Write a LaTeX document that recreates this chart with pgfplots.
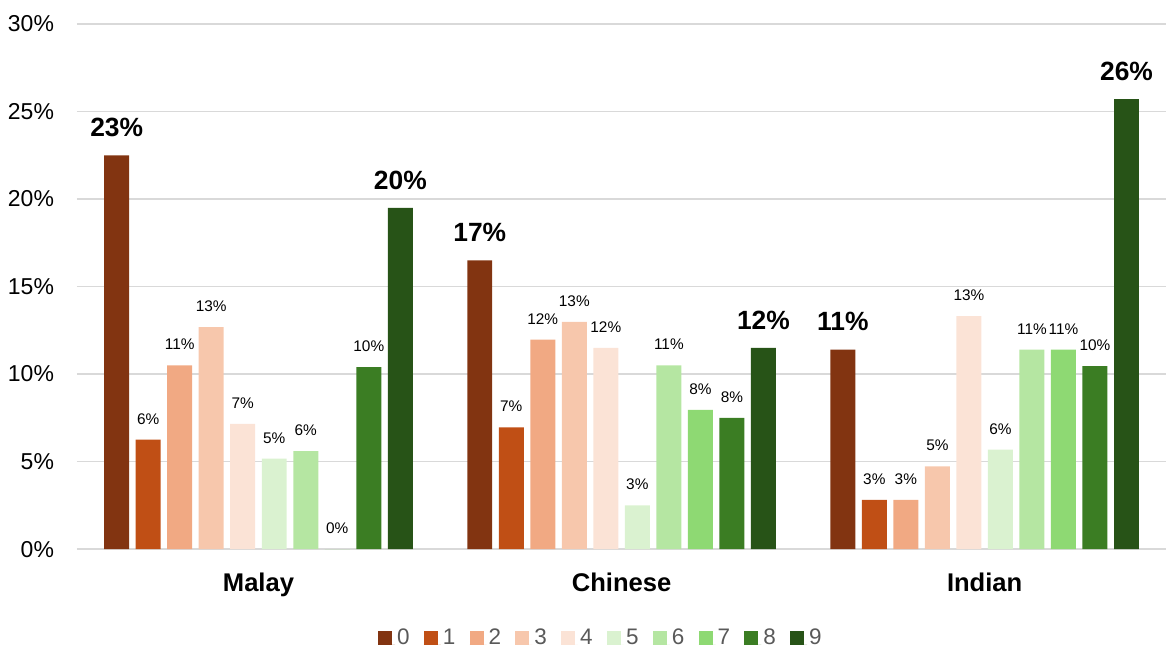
\documentclass[border=0pt]{standalone}
\usepackage{fontspec}
\setmainfont{Liberation Sans}
\usepackage{pgfplots}
\pgfplotsset{compat=1.18}

\definecolor{c0}{HTML}{823411}
\definecolor{c1}{HTML}{C04F15}
\definecolor{c2}{HTML}{F1A983}
\definecolor{c3}{HTML}{F7C7AC}
\definecolor{c4}{HTML}{FBE3D6}
\definecolor{c5}{HTML}{DAF2D0}
\definecolor{c6}{HTML}{B5E6A2}
\definecolor{c7}{HTML}{8ED973}
\definecolor{c8}{HTML}{3B7D23}
\definecolor{c9}{HTML}{275317}
\definecolor{gridgray}{HTML}{D9D9D9}
\definecolor{legendgray}{HTML}{595959}

% first and last series carry larger, bold value labels
\pgfplotsset{
  bigval/.style={every node near coord/.append style={font=\bfseries\fontsize{13.2}{15}\selectfont, yshift=1.5pt}},
}

\begin{document}
\begin{tikzpicture}
\path (0,0) rectangle (583.5pt,323pt);
\begin{axis}[
  at={(38.5pt,48.25pt)}, anchor=south west,
  scale only axis, width=545pt, height=262.75pt,
  xmin=-0.5, xmax=2.5, ymin=0, ymax=30,
  ybar=3.27pt, bar width=12.5pt,
  axis line style={draw=none},
  tick style={draw=none},
  ymajorgrids, major grid style={draw=gridgray, line width=0.8pt},
  ytick={0,5,...,30},
  yticklabel={\pgfmathparse{int(\tick)}\pgfmathresult\%},
  yticklabel style={font=\fontsize{11.5}{13}\selectfont, inner sep=0pt, anchor=east, xshift=-11.3pt},
  xtick={0,1,2}, xticklabels={Malay,Chinese,Indian},
  xticklabel style={font=\bfseries\fontsize{12.8}{15}\selectfont, inner sep=0pt, anchor=north, yshift=-7.5pt},
  point meta=explicit symbolic,
  nodes near coords={\pgfplotspointmeta\%},
  every node near coord/.append style={font=\fontsize{7.7}{9}\selectfont, inner sep=0pt, anchor=south, yshift=7.5pt, text=black},
  legend columns=10,
  legend style={draw=none, fill=none, at={(0.481,-0.17)}, anchor=center,
    font=\fontsize{11.25}{13}\selectfont, text=legendgray, inner sep=0pt,
    nodes={inner sep=1pt, anchor=base west},
    /tikz/every even column/.append style={column sep=6.15pt}},
  legend image code/.code={\fill[#1] (0pt,-0.25pt) rectangle (7pt,6.75pt); \path (0pt,0pt) -- (8.5pt,0pt);},
]
\addplot[fill=c0, draw=none, bigval] coordinates {(0,22.5) [23] (1,16.5) [17] (2,11.4) [11]};
\addplot[fill=c1, draw=none] coordinates {(0,6.25) [6] (1,6.95) [7] (2,2.81) [3]};
\addplot[fill=c2, draw=none] coordinates {(0,10.5) [11] (1,11.97) [12] (2,2.81) [3]};
\addplot[fill=c3, draw=none] coordinates {(0,12.68) [13] (1,12.98) [13] (2,4.73) [5]};
\addplot[fill=c4, draw=none] coordinates {(0,7.16) [7] (1,11.5) [12] (2,13.31) [13]};
\addplot[fill=c5, draw=none] coordinates {(0,5.17) [5] (1,2.5) [3] (2,5.68) [6]};
\addplot[fill=c6, draw=none] coordinates {(0,5.6) [6] (1,10.5) [11] (2,11.39) [11]};
\addplot[fill=c7, draw=none] coordinates {(0,0) [0] (1,7.96) [8] (2,11.39) [11]};
\addplot[fill=c8, draw=none] coordinates {(0,10.4) [10] (1,7.5) [8] (2,10.46) [10]};
\addplot[fill=c9, draw=none, bigval] coordinates {(0,19.5) [20] (1,11.5) [12] (2,25.71) [26]};
\legend{0,1,2,3,4,5,6,7,8,9}
\end{axis}
\end{tikzpicture}
\end{document}
